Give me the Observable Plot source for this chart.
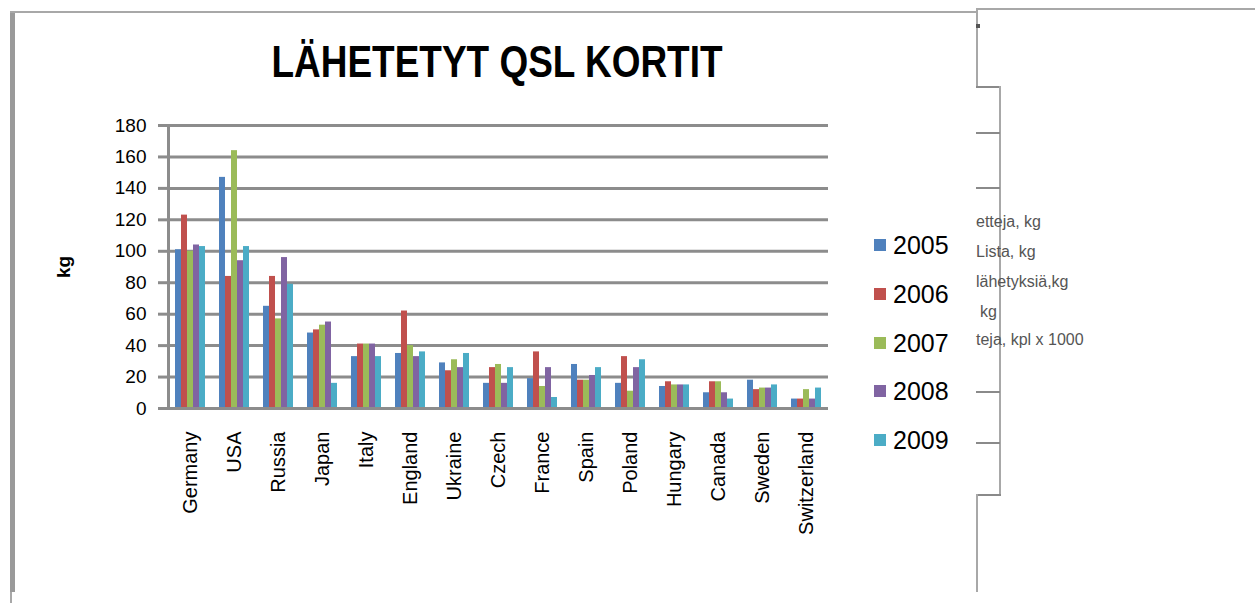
<!DOCTYPE html>
<html><head><meta charset="utf-8">
<script src="https://cdn.jsdelivr.net/npm/d3@7"></script>
<script src="https://cdn.jsdelivr.net/npm/@observablehq/plot@0.6"></script>
<style>
body{margin:0;background:#fff;font-family:"Liberation Sans",Arial,sans-serif;}
#wrap{position:relative;width:1255px;height:603px;overflow:hidden;background:#fff}
.ln{position:absolute;background:#a8a8a8}
.dk{background:#8a8a8a}
#title{position:absolute;left:0;top:40px;width:994px;text-align:center;font-size:44px;line-height:44px;font-weight:bold;color:#000;transform:scaleX(0.84);transform-origin:497px 0;white-space:nowrap}
#chart{position:absolute;left:0;top:0}
#legend .item{position:absolute;left:874px;height:26px;display:flex;align-items:center}
#legend .sw{width:12px;height:12px;margin-right:7px}
#legend .lb{font-size:25px;line-height:26px;color:#000}
.side{position:absolute;left:976px;font-size:16px;color:#555;white-space:nowrap;line-height:18px}
g[aria-label="y-axis label"] text{font-weight:bold}
</style></head><body>
<div id="wrap">
  <div class="ln" style="left:10px;top:11px;width:5px;height:581px;background:#9a9a9a"></div>
  <div class="ln" style="left:10px;top:592px;width:2px;height:11px"></div>
  <div class="ln" style="left:10px;top:11px;width:967px;height:2px"></div>
  <div class="ln" style="left:976px;top:8px;width:279px;height:2px"></div>
  <div class="ln" style="left:976px;top:8px;width:2px;height:80px"></div>
  <div class="ln dk" style="left:976px;top:24px;width:4px;height:4px;background:#555"></div>
  <div class="ln dk" style="left:976px;top:86px;width:25px;height:2px"></div>
  <div class="ln" style="left:999px;top:86px;width:2px;height:410px"></div>
  <div class="ln dk" style="left:976px;top:132px;width:24px;height:2px"></div>
  <div class="ln dk" style="left:976px;top:187px;width:24px;height:2px"></div>
  <div class="ln dk" style="left:976px;top:391px;width:24px;height:2px"></div>
  <div class="ln dk" style="left:976px;top:442px;width:24px;height:2px"></div>
  <div class="ln dk" style="left:976px;top:494px;width:25px;height:2px"></div>
  <div class="ln" style="left:976px;top:494px;width:2px;height:98px"></div>
  <div class="side" style="top:213px">etteja, kg</div>
  <div class="side" style="top:243px">Lista, kg</div>
  <div class="side" style="top:273px">lähetyksiä,kg</div>
  <div class="side" style="top:303px;left:980px">kg</div>
  <div class="side" style="top:331px">teja, kpl x 1000</div>
  <div id="title">LÄHETETYT QSL KORTIT</div>
  <div id="chart"></div>
  <div id="legend"></div>
</div>
<script>
const countries = ["Germany","USA","Russia","Japan","Italy","England","Ukraine","Czech","France","Spain","Poland","Hungary","Canada","Sweden","Switzerland"];
const years = ["2005","2006","2007","2008","2009"];
const v2005 = [101,147,65,48,33,35,29,16,19,28,16,14,10,18,6];
const v2006 = [123,84,84,50,41,62,24,26,36,18,33,17,17,12,6];
const v2007 = [100,164,57,53,41,40,31,28,14,18,11,15,17,13,12];
const v2008 = [104,94,96,55,41,33,26,16,26,21,26,15,10,13,6];
const v2009 = [103,103,79,16,33,36,35,26,7,26,31,15,6,15,13];
const yTicks = [0,20,40,60,80,100,120,140,160,180];
const colors = ["#4F81BD","#C0504D","#9BBB59","#8064A2","#4BACC6"];

const series = [v2005, v2006, v2007, v2008, v2009];
const data = years.flatMap((yr, j) => countries.map((c, i) => ({country: c, year: yr, value: series[j][i]})));

const gray = "#8c8c8c";
const chart = Plot.plot({
  width: 976,
  height: 600,
  marginLeft: 165,
  marginRight: 145,
  marginTop: 125,
  marginBottom: 192,
  style: {background: "transparent", fontFamily: "Liberation Sans, Arial, sans-serif", color: "#000", overflow: "visible"},
  fx: {domain: countries, padding: 0},
  x: {domain: years, paddingInner: 0, paddingOuter: 0.75, axis: null},
  y: {domain: [0, 180]},
  color: {domain: years, range: colors},
  marks: [
    Plot.gridY(yTicks, {stroke: gray, strokeOpacity: 1, strokeWidth: 3}),
    Plot.barY(data, {fx: "country", x: "year", y: "value", fill: "year"}),
    Plot.ruleY([0], {stroke: gray, strokeWidth: 3}),
    Plot.frame({anchor: "left", facetAnchor: "left", stroke: gray, strokeWidth: 3}),
    Plot.axisY(yTicks, {tickSize: 10, tickPadding: 12, stroke: gray, strokeWidth: 3, fontSize: 19, label: "kg", labelArrow: "none", labelAnchor: "center", labelOffset: 112}),
    Plot.axisFx({anchor: "bottom", tickRotate: -90, tickSize: 0, tickPadding: 23, fontSize: 20, label: null})
  ]
});
document.getElementById("chart").appendChild(chart);

const legend = document.getElementById("legend");
const legendTops = [232, 281, 330, 378, 427];
years.forEach((yr, j) => {
  const it = document.createElement("div");
  it.className = "item";
  it.style.top = legendTops[j] + "px";
  it.innerHTML = `<div class="sw" style="background:${colors[j]}"></div><div class="lb">${yr}</div>`;
  legend.appendChild(it);
});
</script>
</body></html>
